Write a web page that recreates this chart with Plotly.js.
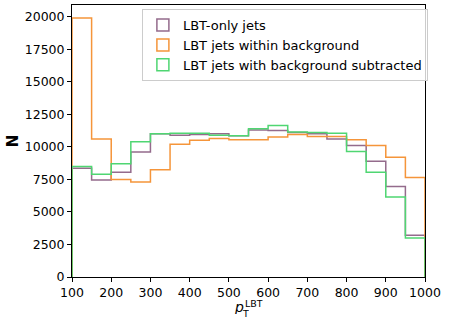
<!DOCTYPE html>
<html>
<head>
<meta charset="utf-8">
<script src="https://cdn.plot.ly/plotly-3.0.1.min.js"></script>
<style>html,body{margin:0;padding:0;background:#fff;}#chart{width:449px;height:326px;}</style>
</head>
<body>
<div id="chart"></div>
<script>
const binEdges = [100,150,200,250,300,350,400,450,500,550,600,650,700,750,800,850,900,950,1000];
const seriesNames = ["LBT-only jets", "LBT jets within background", "LBT jets with background subtracted"];
const lbtOnly = [8350,7450,8050,9600,11000,10900,10950,11000,10850,11300,11250,11100,11000,10600,10100,8900,6950,3200];
const lbtWithinBkg = [19900,10600,7500,7300,8250,10200,10500,10650,10550,10550,10750,10950,10800,10800,10550,10100,9200,7650];
const lbtSubtracted = [8500,7900,8700,10400,11000,11050,11050,10900,10850,11400,11650,11150,11100,11050,9650,8050,6150,3000];
const xTicks = [100,200,300,400,500,600,700,800,900,1000];
const yTicks = [0,2500,5000,7500,10000,12500,15000,17500,20000];

const colors = ["#946b8c", "#f5953a", "#4fd672"];

function stepXY(edges, vals) {
  const xs = [edges[0], edges[0]];
  const ys = [0, vals[0]];
  for (let i = 1; i < vals.length; i++) { xs.push(edges[i]); ys.push(vals[i]); }
  xs.push(edges[edges.length-1]); ys.push(vals[vals.length-1]);
  xs.push(edges[edges.length-1]); ys.push(0);
  return {xs, ys};
}

const all = [lbtOnly, lbtWithinBkg, lbtSubtracted];
const traces = [];
all.forEach((v, i) => {
  const s = stepXY(binEdges, v);
  traces.push({
    type: 'scatter', mode: 'lines', x: s.xs, y: s.ys,
    line: {shape: 'hv', color: colors[i], width: 1.5},
    showlegend: false, hoverinfo: 'skip'
  });
});
// legend entries (patch-style outlined boxes)
all.forEach((v, i) => {
  traces.push({
    type: 'bar', x: [null], y: [null], name: seriesNames[i],
    marker: {color: 'rgba(0,0,0,0)', line: {color: colors[i], width: 1.5}},
    showlegend: true
  });
});

const ann = (text, x, y, size, h) => ({text, xref: 'paper', yref: 'paper', x, y,
  xanchor: 'left', yanchor: 'middle', showarrow: false, borderpad: 0, height: h,
  font: {family: 'DejaVu Sans', size, color: '#000'}});

const layout = {
  width: 449, height: 326,
  margin: {l: 72, r: 24, t: 5, b: 49},
  paper_bgcolor: '#fff', plot_bgcolor: '#fff',
  font: {family: 'DejaVu Sans', size: 12, color: '#000'},
  showlegend: true,
  legend: {x: 0.198, y: 0.985, xanchor: 'left', yanchor: 'top',
    bgcolor: 'rgba(255,255,255,0.8)', bordercolor: '#cccccc', borderwidth: 1,
    font: {family: 'DejaVu Sans', size: 13}, traceorder: 'normal',
    itemwidth: 30, tracegroupgap: 0},
  xaxis: {type: 'linear', range: [100, 1000], tickvals: xTicks, ticktext: xTicks.map(String),
    showgrid: false, zeroline: false, showline: true, linecolor: '#000', linewidth: 1, mirror: true,
    ticks: 'outside', ticklen: 4, tickcolor: '#000',
    tickfont: {family: 'DejaVu Sans', size: 12.5}},
  yaxis: {range: [0, 20900], tickvals: yTicks, ticktext: yTicks.map(String),
    showgrid: false, zeroline: false, showline: true, linecolor: '#000', linewidth: 1, mirror: true,
    ticks: 'outside', ticklen: 4, tickcolor: '#000',
    tickfont: {family: 'DejaVu Sans', size: 12.5},
    title: {text: '<b>N</b>', font: {family: 'DejaVu Sans', size: 15}, standoff: 2}},
  annotations: [
    ann('<i>p</i>', 0.456, -0.1085, 14, 14),
    ann('T', 0.4788, -0.1324, 9.5, 8),
    ann('LBT', 0.487, -0.0956, 9.5, 8)
  ],
  bargap: 0
};

Plotly.newPlot('chart', traces, layout, {displayModeBar: false, staticPlot: true});
</script>
</body>
</html>
